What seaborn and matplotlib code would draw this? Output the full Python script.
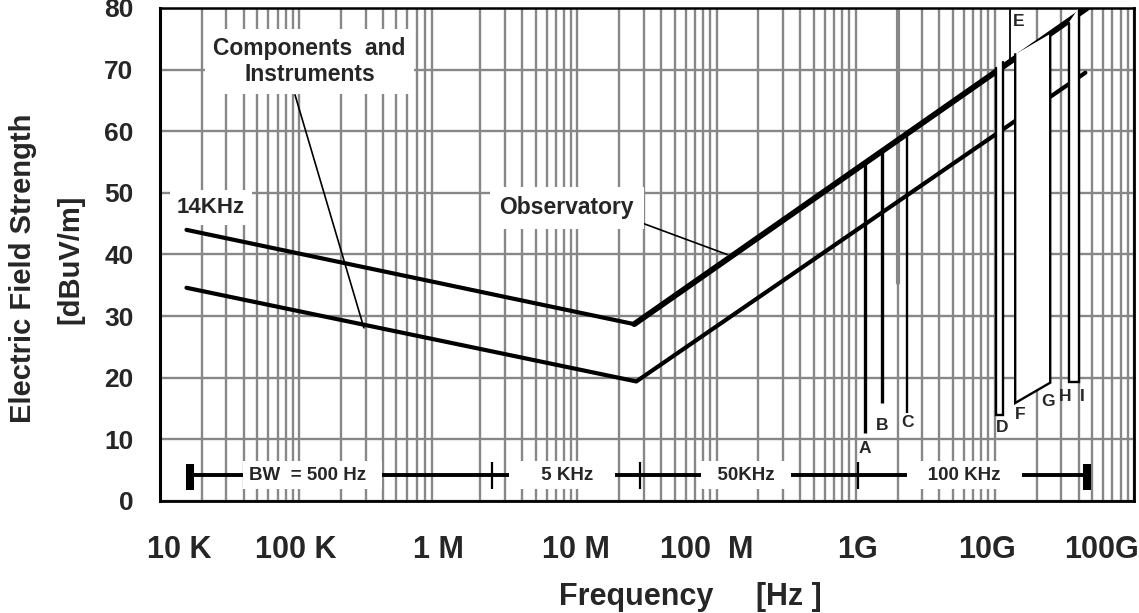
"""
Electric field strength limits vs frequency (log scale), with bandwidth bar
and the A..I allocation markers.
"""

import numpy as np
import pandas as pd
import matplotlib
matplotlib.use("Agg")
import matplotlib.pyplot as plt
from matplotlib.ticker import FixedLocator, FixedFormatter, LogLocator, NullFormatter
import seaborn as sns

# ---- data -----------------------------------------------------------------
upper_freq = [15.5e3, 25.6e6, 46e9]        # Hz
upper_level = [44.0, 28.7, 80.0]           # dBuV/m
lower_freq = [15.5e3, 26.5e6, 44.7e9]
lower_level = [34.6, 19.4, 69.5]

# single vertical markers A, B, C
mark_names = ["A", "B", "C"]
mark_freq = [1.17e9, 1.55e9, 2.35e9]
mark_bottom = [11.0, 15.9, 14.3]
mark_top = [55.0, 56.7, 59.4]
mark_width = [2.4, 2.4, 1.7]

# bands D, F-G, H-I (left edge, right edge, bottoms, tops)
band_lo = [10.2e9, 14.0e9, 33.9e9]
band_hi = [11.5e9, 25.0e9, 40.0e9]
band_bottom_lo = [14.0, 15.9, 19.3]
band_bottom_hi = [14.0, 19.2, 19.3]
band_top_lo = [70.3, 72.5, 77.6]
band_top_hi = [71.3, 75.8, 80.0]

# E marker
e_freq = 12.9e9
e_range = [71.6, 80.0]

# letter labels
letter_names = ["A", "B", "C", "D", "E", "F", "G", "H", "I"]
letter_freq = [1.17e9, 1.55e9, 2.35e9, 11.3e9, 14.7e9, 15.2e9, 24.2e9, 32e9, 42.5e9]
letter_level = [8.6, 12.3, 12.7, 12.0, 77.8, 14.0, 16.1, 17.0, 17.0]

# bandwidth bar
bw_edges = [16.4e3, 2.44e6, 28.3e6, 1.04e9, 46e9]
bw_labels = ["BW  = 500 Hz  ", "     5 KHz   ", "  50KHz  ", "   100 KHz   "]
bw_label_freq = [125e3, 7.76e6, 163e6, 6.03e9]
bw_level = 4.2

# x tick labels (placed where the original puts them)
tick_freq = [13.7e3, 95e3, 1e6, 9.8e6, 85.6e6, 1.03e9, 8.8e9, 58e9]
tick_labels = ["10 K", "100 K", "1 M", "10 M", "100  M", "1G", "10G", "100G"]
ytick_vals = [0, 10, 20, 30, 40, 50, 60, 70, 80]

GRID = "#878787"

sns.set_theme(style="white")
plt.rcParams["font.family"] = ["Liberation Sans", "DejaVu Sans"]
plt.rcParams["font.weight"] = "bold"

fig = plt.figure(figsize=(11.39, 6.13), dpi=100)
ax = fig.add_axes([160 / 1139, 112 / 613, 974 / 1139, 493 / 613])
ax.set_xscale("log")

# grid: every 1..9 x decade vertically, every 10 dB horizontally
ax.xaxis.set_major_locator(FixedLocator(tick_freq))
ax.xaxis.set_major_formatter(FixedFormatter(tick_labels))
ax.xaxis.set_minor_locator(LogLocator(base=10, subs=np.arange(1, 10), numticks=50))
ax.xaxis.set_minor_formatter(NullFormatter())
ax.set_yticks(ytick_vals)
ax.grid(False)
ax.xaxis.grid(True, which="minor", color=GRID, lw=1.7)
ax.yaxis.grid(True, which="major", color=GRID, lw=1.7)
ax.set_axisbelow(True)
ax.axvline(2.02e9, ymin=35.4 / 80, ymax=1, color=GRID, lw=3, zorder=0.5)

# limit curves
curves = pd.DataFrame({
    "freq": upper_freq + lower_freq,
    "level": upper_level + lower_level,
    "curve": ["upper"] * len(upper_freq) + ["lower"] * len(lower_freq),
})
sns.lineplot(data=curves, x="freq", y="level", units="curve", estimator=None,
             color="black", lw=3.0, sort=False, ax=ax, zorder=3)
# observatory segment overlaps the rising part of the upper curve
sns.lineplot(x=upper_freq[1:], y=upper_level[1:], color="black", lw=4.2,
             ax=ax, zorder=3)

# A, B, C
for f, b, t, w in zip(mark_freq, mark_bottom, mark_top, mark_width):
    ax.vlines(f, b, t, color="black", lw=w, zorder=4)

# D, F-G, H-I bands: white inside, open top
for lo, hi, bl, bh, tl, th in zip(band_lo, band_hi, band_bottom_lo,
                                  band_bottom_hi, band_top_lo, band_top_hi):
    ax.fill([lo, lo, hi, hi], [bl, tl, th, bh], color="white", lw=0, zorder=5)
    ax.plot([lo, lo, hi, hi], [tl, bl, bh, th], color="black", lw=1.7,
            solid_joinstyle="miter", zorder=6)

ax.vlines(e_freq, e_range[0], e_range[1], color="black", lw=1.3, zorder=6)

for name, f, y in zip(letter_names, letter_freq, letter_level):
    ax.text(f, y, name, ha="center", va="center", fontsize=12.5,
            fontweight="bold", zorder=7)

# bandwidth bar
ax.hlines(bw_level, bw_edges[0], bw_edges[-1], color="black", lw=2.8, zorder=4)
ax.vlines([bw_edges[0], bw_edges[-1]], 1.8, 6.0, color="black", lw=5.8, zorder=4)
ax.vlines(bw_edges[1:-1], 2.0, 6.3, color="black", lw=1.6, zorder=4)
for lbl, f in zip(bw_labels, bw_label_freq):
    ax.text(f, bw_level, lbl, ha="center", va="center", fontsize=13.5,
            fontweight="bold", zorder=5,
            bbox=dict(facecolor="white", edgecolor="none", pad=4))

# annotations
ax.text(119e3, 71.3, "Components  and\nInstruments", ha="center", va="center",
        fontsize=16.5, fontweight="bold", linespacing=1.15, zorder=5,
        bbox=dict(facecolor="white", edgecolor="none", pad=6))
ax.plot([93.4e3, 292e3], [65.9, 28.1], color="black", lw=1.2, zorder=4)

ax.text(8.4e6, 47.6, "Observatory", ha="center", va="center", fontsize=16.5,
        fontweight="bold", zorder=5,
        bbox=dict(facecolor="white", edgecolor="none", pad=7))
ax.plot([29.2e6, 119e6], [45.1, 40.0], color="black", lw=1.2, zorder=4)

ax.text(23.3e3, 47.6, "14KHz", ha="center", va="center", fontsize=16,
        fontweight="bold", zorder=5,
        bbox=dict(facecolor="white", edgecolor="none", pad=5))

ax.set_xlim(1e4, 1e11)
ax.set_ylim(0, 80)
ax.set_xlabel("")
ax.set_ylabel("")

ax.tick_params(axis="both", which="both", length=0)
ax.tick_params(axis="x", which="major", labelsize=22, pad=24.5)
ax.tick_params(axis="y", labelsize=19, pad=19)
for lab in ax.get_xticklabels() + ax.get_yticklabels():
    lab.set_fontweight("bold")

for side, w in zip(["left", "bottom", "top", "right"], [2.2, 2.0, 1.8, 2.0]):
    ax.spines[side].set_visible(True)
    ax.spines[side].set_color("black")
    ax.spines[side].set_linewidth(w)

fig.text(23 / 1139, 1 - 268 / 613, "Electric Field Strength", rotation=90,
         ha="center", va="center", fontsize=21, fontweight="bold")
fig.text(70 / 1139, 1 - 259 / 613, "[dBuV/m]", rotation=90,
         ha="center", va="center", fontsize=21, fontweight="bold")
fig.text(690 / 1139, 1 - 597 / 613, "Frequency     [Hz ]", ha="center",
         va="center", fontsize=22, fontweight="bold")

fig.savefig("out.png", dpi=100)
